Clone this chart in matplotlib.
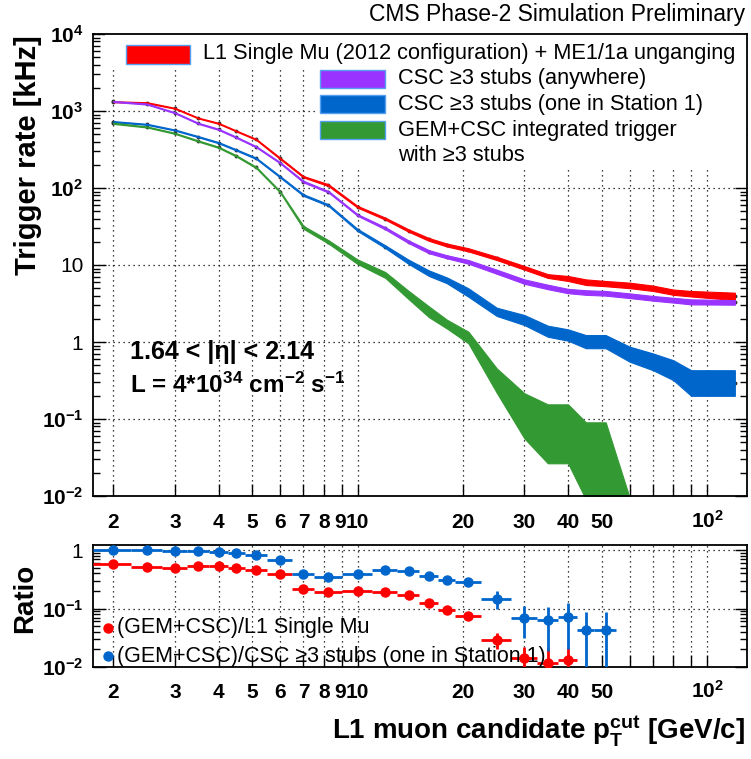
import numpy as np
import matplotlib
matplotlib.use("Agg")
import matplotlib.pyplot as plt
import matplotlib.transforms as mtransforms
from matplotlib.patches import Rectangle
from matplotlib.ticker import FixedLocator, FixedFormatter, LogLocator, NullFormatter

plt.rcParams['font.family'] = ['Liberation Sans', 'DejaVu Sans']
plt.rcParams['mathtext.fontset'] = 'custom'
plt.rcParams['mathtext.rm'] = 'Liberation Sans:bold'
plt.rcParams['mathtext.bf'] = 'Liberation Sans:bold'
plt.rcParams['mathtext.it'] = 'Liberation Sans:bold'
plt.rcParams['mathtext.default'] = 'bf'
plt.rcParams['axes.unicode_minus'] = False

# pT thresholds (bin centres) [GeV/c]
pt = [2, 2.5, 3, 3.5, 4, 4.5, 5.125, 6, 7, 8.25, 10, 12, 14, 16, 18, 20.75,
      25, 30, 35, 40, 45, 51.25, 60, 70, 80, 90, 120]
pt_halfwidth = [0.25, 0.25, 0.25, 0.25, 0.25, 0.25, 0.375, 0.5, 0.5, 0.75, 1, 1, 1, 1, 1,
                1.75, 2.5, 2.5, 2.5, 2.5, 2.5, 3.75]

# trigger rates [kHz], lower / upper edge of the bands
l1_lo = [1300, 1260, 1070, 800, 682, 542, 421, 238, 137, 106, 55.5, 38.8, 27, 20.6, 17.4,
         15.0, 11.6, 8.7, 6.8, 6.2, 5.5, 5.3, 5.0, 4.6, 4.1, 3.9, 3.5]
l1_hi = [1340, 1300, 1100, 822, 702, 558, 435, 248, 143, 112, 58.5, 41.2, 29, 22.4, 19.0,
         16.5, 12.8, 9.7, 7.6, 7.2, 6.5, 6.2, 5.9, 5.4, 4.8, 4.6, 4.37]
csc_any_lo = [1310, 1210, 935, 680, 568, 447, 338, 209, 118, 87.5, 43.5, 29.0, 19.2, 14.2,
              12.2, 10.4, 7.7, 5.7, 4.85, 4.3, 4.1, 4.0, 3.72, 3.44, 3.25, 3.08, 3.05]
csc_any_hi = [1350, 1250, 965, 704, 588, 463, 350, 217, 124, 91.5, 45.7, 31.0, 20.8, 15.6,
              13.4, 11.6, 8.7, 6.5, 5.55, 4.9, 4.7, 4.6, 4.28, 3.96, 3.75, 3.58, 3.5]
csc_st1_lo = [715, 660, 557, 456, 381, 306, 238, 137, 79, 58.5, 27.6, 16.6, 10.3, 7.2, 5.8,
              3.87, 2.18, 1.66, 1.17, 1.04, 0.83, 0.83, 0.555, 0.43, 0.32, 0.2, 0.2]
csc_st1_hi = [740, 682, 575, 472, 395, 318, 248, 143, 83, 61.5, 29.4, 18.0, 11.7, 8.5, 6.9,
              4.98, 2.79, 2.24, 1.63, 1.46, 1.23, 1.23, 0.87, 0.71, 0.58, 0.43, 0.43]
gem_lo = [680, 610, 505, 401, 332, 256, 181, 87.5, 29.5, 19.0, 10.3, 6.8, 3.6, 2.1, 1.5,
          0.96, 0.22, 0.056, 0.0266, 0.0266, 0.009, 0.001, 0.001]
gem_hi = [704, 630, 521, 415, 344, 266, 189, 91.5, 32.2, 21.0, 11.8, 8.1, 4.6, 2.9, 1.95,
          1.36, 0.455, 0.216, 0.155, 0.155, 0.0905, 0.0905, 0.0095]

# ratios
ratio_l1 = [0.58, 0.51, 0.50, 0.54, 0.53, 0.50, 0.45, 0.39, 0.22, 0.19, 0.20, 0.19, 0.169,
            0.122, 0.096, 0.074, 0.029, 0.014, 0.0118, 0.013]
ratio_l1_err = [0.01, 0.01, 0.01, 0.01, 0.01, 0.01, 0.01, 0.01, 0.01, 0.01, 0.008, 0.01, 0.01,
                0.008, 0.006, 0.009, 0.009, 0.008, 0.009, 0.009]
ratio_st1 = [1.0, 1.0, 0.97, 0.96, 0.92, 0.90, 0.81, 0.68, 0.39, 0.35, 0.39, 0.46, 0.43, 0.36,
             0.31, 0.28, 0.148, 0.070, 0.063, 0.072, 0.043, 0.043]
ratio_st1_err = [0.02, 0.02, 0.02, 0.02, 0.02, 0.02, 0.02, 0.02, 0.02, 0.02, 0.02, 0.02, 0.025,
                 0.03, 0.035, 0.04, 0.05, 0.039, 0.044, 0.052, 0.045, 0.045]

x_ticks = [2, 3, 4, 5, 6, 7, 8, 9, 10, 20, 30, 40, 50, 60, 70, 80, 90, 100]
x_labels = ['2', '3', '4', '5', '6', '7', '8', '9', '10', '20', '30', '40', '50',
            '', '', '', '', '$10^{2}$']

c_red = '#ff0000'
c_pur = '#9933ff'
c_blu = '#0066cc'
c_grn = '#339933'

fig = plt.figure(figsize=(7.51, 7.59), dpi=100)
ax = fig.add_axes([93/751, 1-496/759, 654/751, 462/759])
axr = fig.add_axes([93/751, 1-667/759, 654/751, 122/759])

pt = np.array(pt)


def style_axis(a, yt, yl, lab_y):
    a.set_xscale('log')
    a.set_yscale('log')
    a.set_xlim(1.75, 130)
    a.xaxis.set_major_locator(FixedLocator(x_ticks))
    a.xaxis.set_major_formatter(NullFormatter())
    a.xaxis.set_minor_locator(FixedLocator([]))
    a.yaxis.set_major_locator(FixedLocator(yt))
    a.yaxis.set_major_formatter(FixedFormatter(yl))
    a.yaxis.set_minor_locator(LogLocator(base=10, subs=np.arange(2, 10), numticks=20))
    a.yaxis.set_minor_formatter(NullFormatter())
    a.tick_params(which='both', direction='in', right=True, top=False, labelsize=15, width=1)
    a.tick_params(which='major', length=9, pad=7)
    a.tick_params(which='minor', length=5)
    a.grid(True, which='major', color='black', linestyle=(0, (1, 3)), linewidth=0.9)
    for s in a.spines.values():
        s.set_linewidth(1.3)
    # x tick labels on a common baseline; "9" nudged left so it does not touch "10"
    tr = mtransforms.blended_transform_factory(a.transData, a.transAxes)
    for xv, lab in zip(x_ticks, x_labels):
        if lab:
            t = tr
            if lab == '9':
                t = tr + mtransforms.ScaledTranslation(-2/100, 0, fig.dpi_scale_trans)
            a.text(xv, lab_y, lab, transform=t, ha='center', va='baseline',
                   fontsize=15, fontweight='bold', clip_on=False)


# ---- top panel: rate bands
bands = [(l1_lo, l1_hi, c_red), (csc_any_lo, csc_any_hi, c_pur),
         (csc_st1_lo, csc_st1_hi, c_blu), (gem_lo, gem_hi, c_grn)]
for lo, hi, col in bands:
    n = len(lo)
    xs = pt[:n]
    ax.plot(xs, np.sqrt(np.array(lo) * np.array(hi)), ls='none', marker='o', ms=1.8,
            color='#333333', zorder=1.9)
    ax.fill_between(xs, lo, hi, color=col, lw=0.8, edgecolor=col, zorder=2)

style_axis(ax, [1e-2, 1e-1, 1, 10, 1e2, 1e3, 1e4],
           ['$10^{-2}$', '$10^{-1}$', '1', '10', '$10^{2}$', '$10^{3}$', '$10^{4}$'], -0.069)
ax.set_ylim(1e-2, 1e4)

# legend boxes (white, hiding grid)
ax.add_patch(Rectangle((0.018, 0.922), 0.982, 0.078, transform=ax.transAxes,
                       facecolor='white', edgecolor='none', zorder=1.8))
ax.add_patch(Rectangle((0.339, 0.706), 0.661, 0.216, transform=ax.transAxes,
                       facecolor='white', edgecolor='none', zorder=1.8))

leg1 = [('L1 Single Mu (2012 configuration) + ME1/1a unganging', c_red)]
for lab, col in leg1:
    ax.add_patch(Rectangle((0.050, 0.936), 0.098, 0.041, transform=ax.transAxes,
                           facecolor=col, edgecolor='#55a0f0', lw=1, zorder=3))
    ax.text(0.168, 0.957, lab, transform=ax.transAxes, fontsize=15.7, va='center', zorder=3)

leg2 = [('CSC \u22653 stubs (anywhere)', c_pur),
        ('CSC \u22653 stubs (one in Station 1)', c_blu),
        ('GEM+CSC integrated trigger', c_grn)]
rows = [0.903, 0.848, 0.792]
for (lab, col), yr in zip(leg2, rows):
    ax.add_patch(Rectangle((0.347, yr - 0.020), 0.099, 0.040, transform=ax.transAxes,
                           facecolor=col, edgecolor='#55a0f0', lw=1, zorder=3))
    ax.text(0.466, yr, lab, transform=ax.transAxes, fontsize=15.7, va='center', zorder=3)
ax.text(0.466, 0.738, 'with \u22653 stubs', transform=ax.transAxes, fontsize=15.7,
        va='center', zorder=3)

ax.text(0.057, 0.312, '1.64 < |\u03b7| < 2.14', transform=ax.transAxes, fontsize=18,
        fontweight='bold', va='center')
ax.text(0.057, 0.240, 'L = 4*10$^{34}$ cm$^{-2}$ s$^{-1}$', transform=ax.transAxes,
        fontsize=17.5, fontweight='bold', va='center')

# ---- bottom panel: ratios
n1 = len(ratio_l1)
r1 = np.array(ratio_l1)
e1 = np.array(ratio_l1_err)
axr.errorbar(pt[:n1], r1, xerr=pt_halfwidth[:n1], yerr=[np.minimum(e1, r1 * 0.999), e1],
             fmt='o', ms=6.5, color=c_red, elinewidth=2, capsize=0, zorder=3)
n2 = len(ratio_st1)
r2 = np.array(ratio_st1)
e2 = np.array(ratio_st1_err)
axr.errorbar(pt[:n2], r2, xerr=pt_halfwidth[:n2], yerr=[np.minimum(e2, r2 * 0.999), e2],
             fmt='o', ms=6.5, color=c_blu, elinewidth=2, capsize=0, zorder=3)

style_axis(axr, [1e-2, 1e-1, 1], ['$10^{-2}$', '$10^{-1}$', '1'], -0.254)
axr.set_ylim(1e-2, 1.22)

axr.plot([0.023], [0.32], transform=axr.transAxes, marker='o', ms=6.5, color=c_red,
         clip_on=False)
axr.text(0.036, 0.32, '(GEM+CSC)/L1 Single Mu', transform=axr.transAxes, fontsize=15.5,
         va='center')
axr.plot([0.023], [0.09], transform=axr.transAxes, marker='o', ms=6.5, color=c_blu,
         clip_on=False)
axr.text(0.036, 0.09, '(GEM+CSC)/CSC \u22653 stubs (one in Station 1)',
         transform=axr.transAxes, fontsize=15.5, va='center')

# ---- titles
fig.text(745/751, 1-15/759, 'CMS Phase-2 Simulation Preliminary', fontsize=16.5,
         ha='right', va='center')
fig.text(28/751, 1-155/759, 'Trigger rate [kHz]', fontsize=21, fontweight='bold',
         rotation=90, ha='center', va='center')
fig.text(25/751, 1-598/759, 'Ratio', fontsize=20, fontweight='bold',
         rotation=90, ha='center', va='center')
fig.text(745/751, 1-731/759, 'L1 muon candidate p$_{T}^{cut}$ [GeV/c]', fontsize=20,
         fontweight='bold', ha='right', va='center')

fig.savefig('out.png', dpi=100)
